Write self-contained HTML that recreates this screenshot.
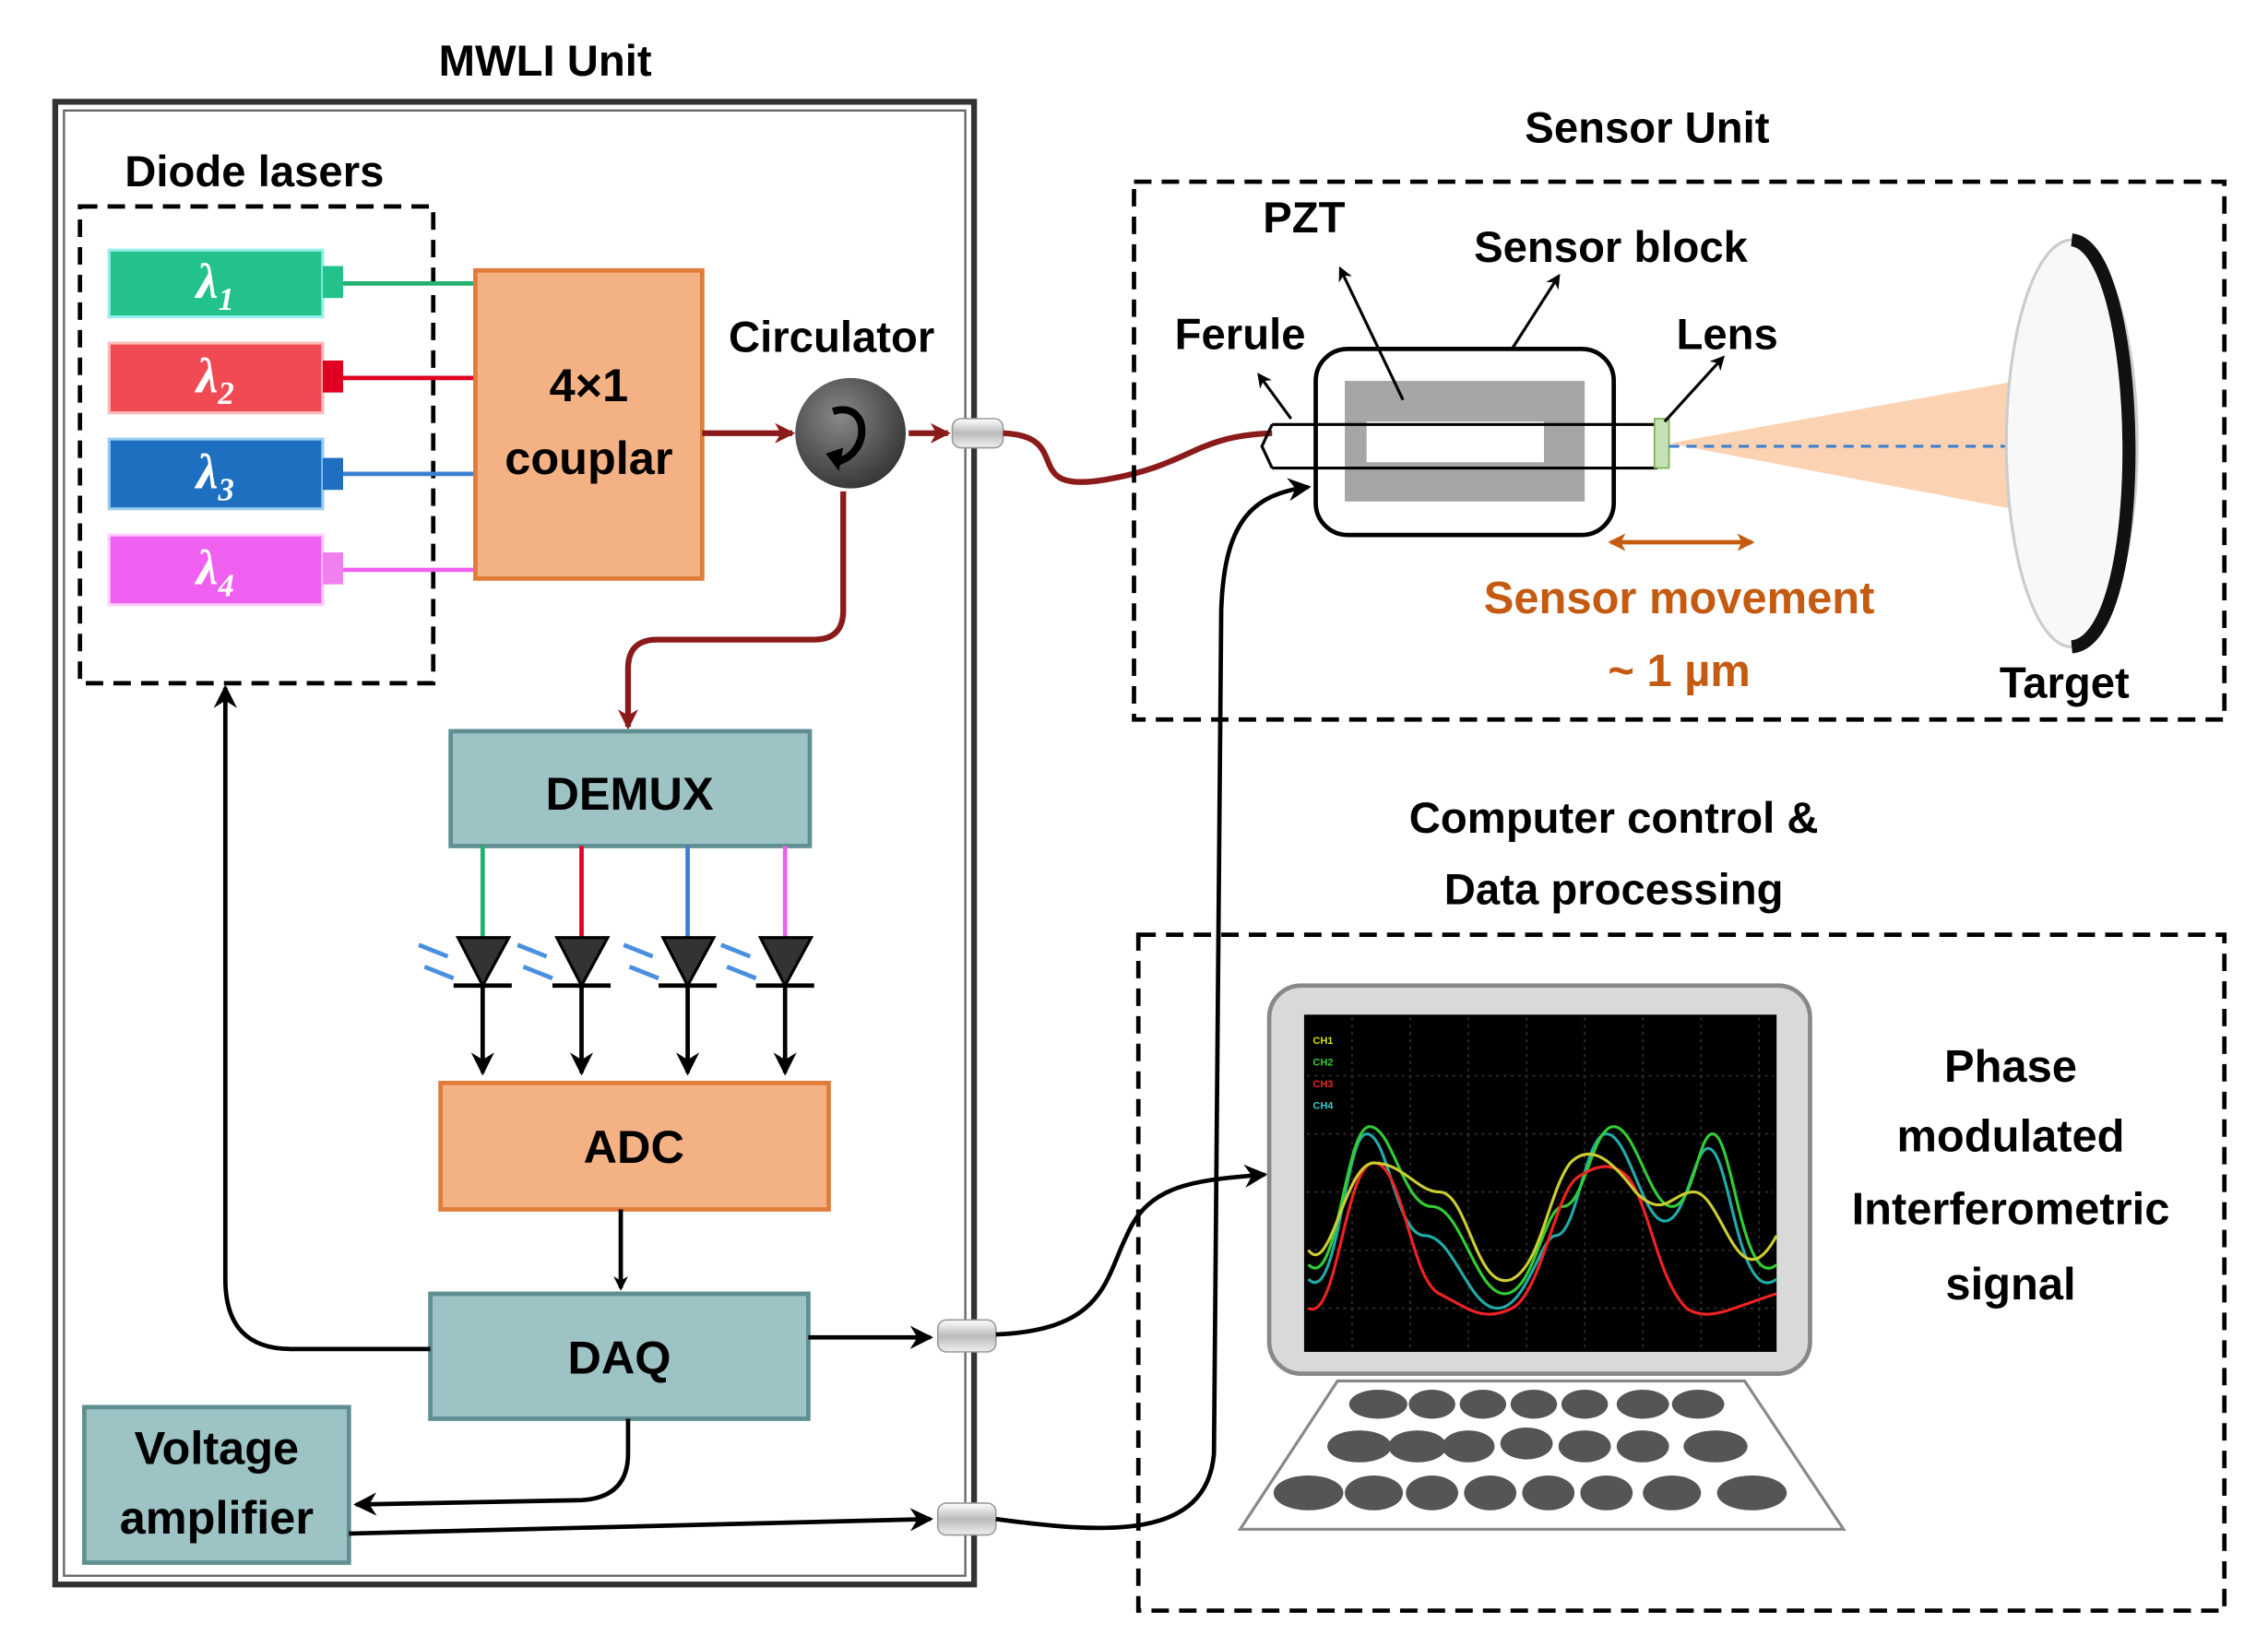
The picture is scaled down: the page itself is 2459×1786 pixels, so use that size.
<!DOCTYPE html>
<html><head><meta charset="utf-8"><style>
html,body{margin:0;padding:0;background:#fff;}
svg{display:block;}
text{font-family:"Liberation Sans",sans-serif;font-weight:bold;}
text.lam{font-family:"Liberation Serif",serif;font-style:italic;}
</style></head><body>
<svg width="2459" height="1786" viewBox="0 0 1560 1133" xmlns="http://www.w3.org/2000/svg">
<defs>
<marker id="ab" markerWidth="10" markerHeight="10" refX="8" refY="5" orient="auto-start-reverse" markerUnits="userSpaceOnUse"><path d="M0,0 L10,5 L0,10 L3,5 z" fill="#000"/></marker>
<marker id="ar" markerWidth="14" markerHeight="14" refX="12" refY="7" orient="auto" markerUnits="userSpaceOnUse"><path d="M0,0 L14,7 L0,14 L4,7 z" fill="#8b1a1a"/></marker>
<marker id="ak" markerWidth="16" markerHeight="16" refX="14" refY="8" orient="auto" markerUnits="userSpaceOnUse"><path d="M0,0 L16,8 L0,16 L5,8 z" fill="#000"/></marker>
<marker id="ao" markerWidth="12" markerHeight="12" refX="10" refY="6" orient="auto-start-reverse" markerUnits="userSpaceOnUse"><path d="M0,0 L12,6 L0,12 L3,6 z" fill="#c55a11"/></marker>
<radialGradient id="cg" cx="40%" cy="35%" r="70%"><stop offset="0" stop-color="#888"/><stop offset="1" stop-color="#333"/></radialGradient>
<linearGradient id="conn" x1="0" y1="0" x2="0" y2="1"><stop offset="0" stop-color="#fff"/><stop offset="0.5" stop-color="#bbb"/><stop offset="1" stop-color="#eee"/></linearGradient>
</defs>

<text x="375" y="52" font-size="30" text-anchor="middle">MWLI Unit</text>
<rect x="38" y="70" width="632" height="1020" fill="none" stroke="#333" stroke-width="4"/>
<rect x="44" y="76" width="620" height="1008" fill="none" stroke="#666" stroke-width="1.5"/>

<text x="175" y="128" font-size="30" text-anchor="middle">Diode lasers</text>
<rect x="55" y="142" width="243" height="328" fill="none" stroke="#000" stroke-width="3" stroke-dasharray="12,7"/>

<rect x="75" y="172" width="147" height="46" fill="#22c28a" stroke="#9ee" stroke-width="2"/><rect x="222" y="183" width="14" height="22" fill="#22c28a"/>
<rect x="75" y="236" width="147" height="48" fill="#f04a55" stroke="#fbb" stroke-width="2"/><rect x="222" y="248" width="14" height="22" fill="#e00020"/>
<rect x="75" y="302" width="147" height="48" fill="#1e6fc0" stroke="#9ce" stroke-width="2"/><rect x="222" y="315" width="14" height="22" fill="#1e6fc0"/>
<rect x="75" y="368" width="147" height="48" fill="#f060f0" stroke="#fcf" stroke-width="2"/><rect x="222" y="380" width="14" height="22" fill="#f080f0"/>
<text class="lam" x="148" y="205" font-size="34" fill="#fff" text-anchor="middle">λ<tspan font-size="22" dy="8">1</tspan></text>
<text class="lam" x="148" y="270" font-size="34" fill="#fff" text-anchor="middle">λ<tspan font-size="22" dy="8">2</tspan></text>
<text class="lam" x="148" y="336" font-size="34" fill="#fff" text-anchor="middle">λ<tspan font-size="22" dy="8">3</tspan></text>
<text class="lam" x="148" y="402" font-size="34" fill="#fff" text-anchor="middle">λ<tspan font-size="22" dy="8">4</tspan></text>
<line x1="236" y1="195" x2="327" y2="195" stroke="#22b070" stroke-width="3"/>
<line x1="236" y1="260" x2="327" y2="260" stroke="#e00020" stroke-width="3"/>
<line x1="236" y1="326" x2="327" y2="326" stroke="#3a7fd0" stroke-width="3"/>
<line x1="236" y1="392" x2="327" y2="392" stroke="#f060f0" stroke-width="3"/>

<rect x="327" y="186" width="156" height="212" fill="#f4b183" stroke="#e07b39" stroke-width="3"/>
<text x="405" y="276" font-size="32" text-anchor="middle">4×1</text>
<text x="405" y="326" font-size="32" text-anchor="middle">couplar</text>

<line x1="483" y1="298" x2="545" y2="298" stroke="#8b1a1a" stroke-width="4" marker-end="url(#ar)"/>
<text x="572" y="242" font-size="30" text-anchor="middle">Circulator</text>
<circle cx="585" cy="298" r="38" fill="url(#cg)"/>
<path d="M573,283 C598,275 600,312 575,318" fill="none" stroke="#000" stroke-width="5"/>
<path d="M568,312 L580,308 L577,324z" fill="#000"/>
<line x1="625" y1="298" x2="652" y2="298" stroke="#8b1a1a" stroke-width="4" marker-end="url(#ar)"/>
<rect x="655" y="288" width="35" height="20" rx="6" fill="url(#conn)" stroke="#999"/>
<path d="M690,298 C740,300 700,340 760,330 C820,320 820,300 875,298" fill="none" stroke="#8b1a1a" stroke-width="4"/>
<path d="M580,338 L580,420 Q580,440 560,440 L452,440 Q432,440 432,460 L432,500" fill="none" stroke="#8b1a1a" stroke-width="4" marker-end="url(#ar)"/>

<rect x="310" y="503" width="247" height="79" fill="#9dc3c4" stroke="#5f8f91" stroke-width="3"/>
<text x="433" y="557" font-size="32" text-anchor="middle">DEMUX</text>
<line x1="332" y1="582" x2="332" y2="645" stroke="#22b070" stroke-width="3"/>
<line x1="400" y1="582" x2="400" y2="645" stroke="#e00020" stroke-width="3"/>
<line x1="473" y1="582" x2="473" y2="645" stroke="#3a7fd0" stroke-width="3"/>
<line x1="540" y1="582" x2="540" y2="645" stroke="#f060f0" stroke-width="3"/>
<g stroke="#000" stroke-width="3">
<g id="pd"><path d="M315,645 L350,645 L332,678z" fill="#333" stroke-width="2"/><line x1="312" y1="678" x2="352" y2="678"/><line x1="332" y1="678" x2="332" y2="738" marker-end="url(#ak)"/>
<path d="M288,650 l20,8 M292,665 l20,8" stroke="#4a8fe0" stroke-width="3"/></g>
<use href="#pd" x="68"/><use href="#pd" x="141"/><use href="#pd" x="208"/>
</g>

<rect x="303" y="745" width="267" height="87" fill="#f4b183" stroke="#e07b39" stroke-width="3"/>
<text x="436" y="800" font-size="32" text-anchor="middle">ADC</text>
<line x1="427" y1="832" x2="427" y2="886" stroke="#000" stroke-width="3" marker-end="url(#ab)"/>

<rect x="296" y="890" width="260" height="86" fill="#9dc3c4" stroke="#5f8f91" stroke-width="3"/>
<text x="426" y="945" font-size="32" text-anchor="middle">DAQ</text>
<path d="M296,928 L200,928 Q155,928 155,880 L155,473" fill="none" stroke="#000" stroke-width="3" marker-end="url(#ak)"/>
<line x1="556" y1="920" x2="640" y2="920" stroke="#000" stroke-width="3" marker-end="url(#ak)"/>
<rect x="645" y="908" width="40" height="22" rx="6" fill="url(#conn)" stroke="#999"/>
<path d="M685,918 C760,915 760,880 775,850 C790,815 820,812 870,808" fill="none" stroke="#000" stroke-width="3" marker-end="url(#ak)"/>
<path d="M432,976 L432,1000 Q432,1030 400,1032 L245,1035" fill="none" stroke="#000" stroke-width="3" marker-end="url(#ak)"/>

<rect x="58" y="968" width="182" height="107" fill="#9dc3c4" stroke="#5f8f91" stroke-width="3"/>
<text x="149" y="1007" font-size="32" text-anchor="middle">Voltage</text>
<text x="149" y="1055" font-size="32" text-anchor="middle">amplifier</text>
<line x1="240" y1="1055" x2="640" y2="1045" stroke="#000" stroke-width="3" marker-end="url(#ak)"/>
<rect x="645" y="1034" width="40" height="22" rx="6" fill="url(#conn)" stroke="#999"/>
<path d="M685,1045 C760,1055 830,1060 835,1000 L840,420 C842,360 860,340 900,335" fill="none" stroke="#000" stroke-width="3" marker-end="url(#ak)"/>

<text x="1133" y="98" font-size="30" text-anchor="middle">Sensor Unit</text>
<rect x="780" y="125" width="750" height="370" fill="none" stroke="#000" stroke-width="3" stroke-dasharray="12,7"/>
<text x="897" y="160" font-size="30" text-anchor="middle">PZT</text>
<text x="1108" y="180" font-size="30" text-anchor="middle">Sensor block</text>
<text x="853" y="240" font-size="30" text-anchor="middle">Ferule</text>
<text x="1188" y="240" font-size="30" text-anchor="middle">Lens</text>
<rect x="905" y="240" width="205" height="128" rx="22" fill="#fff" stroke="#000" stroke-width="3"/>
<rect x="925" y="262" width="165" height="83" fill="#a6a6a6"/>
<rect x="940" y="290" width="122" height="28" fill="#fff"/>
<path d="M875,292 L1140,292 M875,322 L1140,322 M875,292 L868,307 L875,322" fill="none" stroke="#000" stroke-width="2"/>
<rect x="1138" y="288" width="10" height="34" fill="#c5e0b4" stroke="#70ad47"/>
<line x1="922" y1="185" x2="965" y2="275" stroke="#000" stroke-width="2" marker-start="url(#ab)"/>
<line x1="1072" y1="190" x2="1040" y2="240" stroke="#000" stroke-width="2" marker-start="url(#ab)"/>
<line x1="866" y1="258" x2="888" y2="288" stroke="#000" stroke-width="2" marker-start="url(#ab)"/>
<line x1="1185" y1="246" x2="1145" y2="290" stroke="#000" stroke-width="2" marker-start="url(#ab)"/>
<polygon points="1148,305 1410,258 1410,355" fill="#fbd3b3"/>
<line x1="1148" y1="307" x2="1410" y2="307" stroke="#3a7fd0" stroke-width="2" stroke-dasharray="7,5"/>
<ellipse cx="1425" cy="305" rx="45" ry="140" fill="#f8f8f8" stroke="#ccc" stroke-width="2"/>
<path d="M1425,165 C1475,170 1480,440 1425,445" fill="none" stroke="#111" stroke-width="9"/>
<text x="1420" y="480" font-size="30" text-anchor="middle">Target</text>
<line x1="1108" y1="373" x2="1205" y2="373" stroke="#c55a11" stroke-width="3" marker-start="url(#ao)" marker-end="url(#ao)"/>
<text x="1155" y="422" font-size="31" fill="#c55a11" text-anchor="middle">Sensor movement</text>
<text x="1155" y="472" font-size="31" fill="#c55a11" text-anchor="middle">~ 1 µm</text>

<text x="1110" y="573" font-size="30" text-anchor="middle">Computer control &amp;</text>
<text x="1110" y="622" font-size="30" text-anchor="middle">Data processing</text>
<rect x="783" y="643" width="747" height="465" fill="none" stroke="#000" stroke-width="3" stroke-dasharray="12,7"/>
<rect x="873" y="678" width="372" height="267" rx="22" fill="#d9d9d9" stroke="#888" stroke-width="3"/>
<rect x="897" y="698" width="325" height="232" fill="#000"/>
<g stroke="#333" stroke-width="1" stroke-dasharray="2,3">
<line x1="930" y1="700" x2="930" y2="928"/><line x1="970" y1="700" x2="970" y2="928"/><line x1="1010" y1="700" x2="1010" y2="928"/><line x1="1050" y1="700" x2="1050" y2="928"/><line x1="1090" y1="700" x2="1090" y2="928"/><line x1="1130" y1="700" x2="1130" y2="928"/><line x1="1170" y1="700" x2="1170" y2="928"/><line x1="1210" y1="700" x2="1210" y2="928"/>
<line x1="899" y1="740" x2="1220" y2="740"/><line x1="899" y1="780" x2="1220" y2="780"/><line x1="899" y1="820" x2="1220" y2="820"/><line x1="899" y1="860" x2="1220" y2="860"/><line x1="899" y1="900" x2="1220" y2="900"/>
</g>
<g font-size="7"><text x="903" y="718" fill="#dd0">CH1</text><text x="903" y="733" fill="#3c3">CH2</text><text x="903" y="748" fill="#e22">CH3</text><text x="903" y="763" fill="#3cc">CH4</text></g>
<g fill="none" stroke-width="2">
<path d="M900,880 C920,900 925,780 940,780 C955,780 960,850 980,850 C1000,850 1010,900 1030,900 C1050,900 1060,850 1070,850 C1085,850 1090,780 1105,780 C1120,780 1130,840 1145,840 C1160,840 1165,790 1175,790 C1190,790 1195,900 1222,880" stroke="#2aa"/>
<path d="M900,870 C920,890 925,775 942,775 C958,775 965,830 985,830 C1005,830 1015,890 1035,890 C1055,890 1062,830 1075,830 C1090,830 1095,775 1110,775 C1125,775 1135,830 1150,830 C1165,830 1168,780 1178,780 C1192,780 1198,890 1222,870" stroke="#3c3"/>
<path d="M900,900 C920,910 925,800 945,800 C965,800 970,880 990,890 C1010,900 1020,910 1040,900 C1060,890 1070,820 1085,810 C1100,800 1110,800 1120,810 C1135,830 1140,880 1160,900 C1175,910 1190,900 1222,890" stroke="#e22"/>
<path d="M900,860 C915,880 925,800 945,800 C965,800 975,820 990,820 C1010,820 1015,890 1040,880 C1060,870 1065,820 1080,800 C1095,785 1110,800 1125,820 C1145,840 1150,820 1165,820 C1185,820 1195,900 1222,850" stroke="#cc3"/>
</g>
<polygon points="920,950 1200,950 1268,1052 853,1052" fill="#fff" stroke="#888" stroke-width="2"/>
<g fill="#555">
<ellipse cx="948" cy="966" rx="20" ry="10"/><ellipse cx="985" cy="966" rx="16" ry="10"/><ellipse cx="1020" cy="966" rx="16" ry="10"/><ellipse cx="1055" cy="966" rx="16" ry="10"/><ellipse cx="1090" cy="966" rx="16" ry="10"/><ellipse cx="1130" cy="966" rx="18" ry="10"/><ellipse cx="1168" cy="966" rx="18" ry="10"/>
<ellipse cx="935" cy="995" rx="22" ry="11"/><ellipse cx="975" cy="995" rx="20" ry="11"/><ellipse cx="1010" cy="995" rx="18" ry="11"/><ellipse cx="1050" cy="993" rx="18" ry="11"/><ellipse cx="1090" cy="995" rx="18" ry="11"/><ellipse cx="1130" cy="995" rx="18" ry="11"/><ellipse cx="1180" cy="995" rx="22" ry="11"/>
<ellipse cx="900" cy="1027" rx="24" ry="12"/><ellipse cx="945" cy="1027" rx="20" ry="12"/><ellipse cx="985" cy="1027" rx="18" ry="12"/><ellipse cx="1025" cy="1027" rx="18" ry="12"/><ellipse cx="1065" cy="1027" rx="18" ry="12"/><ellipse cx="1105" cy="1027" rx="18" ry="12"/><ellipse cx="1150" cy="1027" rx="20" ry="12"/><ellipse cx="1205" cy="1027" rx="24" ry="12"/>
</g>
<g font-size="31" text-anchor="middle">
<text x="1383" y="744">Phase</text>
<text x="1383" y="792">modulated</text>
<text x="1383" y="842">Interferometric</text>
<text x="1383" y="894">signal</text>
</g>
</svg>
</body></html>
